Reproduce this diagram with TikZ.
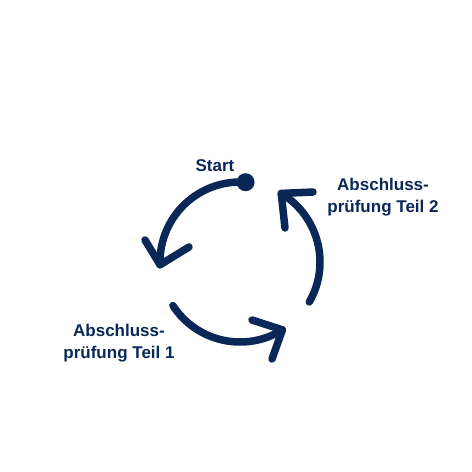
\documentclass[tikz,border=0pt]{standalone}
\usepackage{fontspec}
\setmainfont{Liberation Sans}
\usetikzlibrary{calc}
\definecolor{navy}{HTML}{0A2857}
\begin{document}
\begin{tikzpicture}[x=1pt,y=-1pt,
  arcline/.style={draw=navy,line width=7.5pt,line cap=round,line join=round},
  lab/.style={text=navy,font=\fontsize{17}{22}\selectfont\bfseries,align=center,inner sep=0pt}]
\fill[white] (0,0) rectangle (472,472);
\useasboundingbox (0,0) rectangle (472,472);
\coordinate (c) at (240,262);
% arc 1 (from Start dot)
\coordinate (s1) at ($(c)+(-86:80)$);
\coordinate (t1) at ($(c)+(-182:80)$);
\coordinate (w1a) at (145,240);
\coordinate (w1b) at (189,247);
\draw[arcline] (s1) arc[start angle=-86,end angle=-182,radius=80];
\draw[arcline] (w1a) -- (t1) -- (w1b);
\fill[navy] (s1) circle[radius=9];
% arc 2
\coordinate (s2) at ($(c)+(147:80)$);
\coordinate (t2) at ($(c)+(58:80)$);
\coordinate (w2a) at (252,320);
\coordinate (w2b) at (272,359);
\draw[arcline] (s2) arc[start angle=147,end angle=58,radius=80];
\draw[arcline] (w2a) -- (t2) -- (w2b);
% arc 3
\coordinate (s3) at ($(c)+(30:80)$);
\coordinate (t3) at ($(c)+(-59:80)$);
\coordinate (w3a) at (313,192);
\coordinate (w3b) at (285,228);
\draw[arcline] (s3) arc[start angle=30,end angle=-59,radius=80];
\draw[arcline] (w3a) -- (t3) -- (w3b);
% labels
\node[lab] (start) at (215,166) {Start};
\node[lab] (p2) at (383,197) {Abschluss-\\prüfung Teil 2};
\node[lab] (p1) at (119,343) {Abschluss-\\prüfung Teil 1};
\end{tikzpicture}
\end{document}
